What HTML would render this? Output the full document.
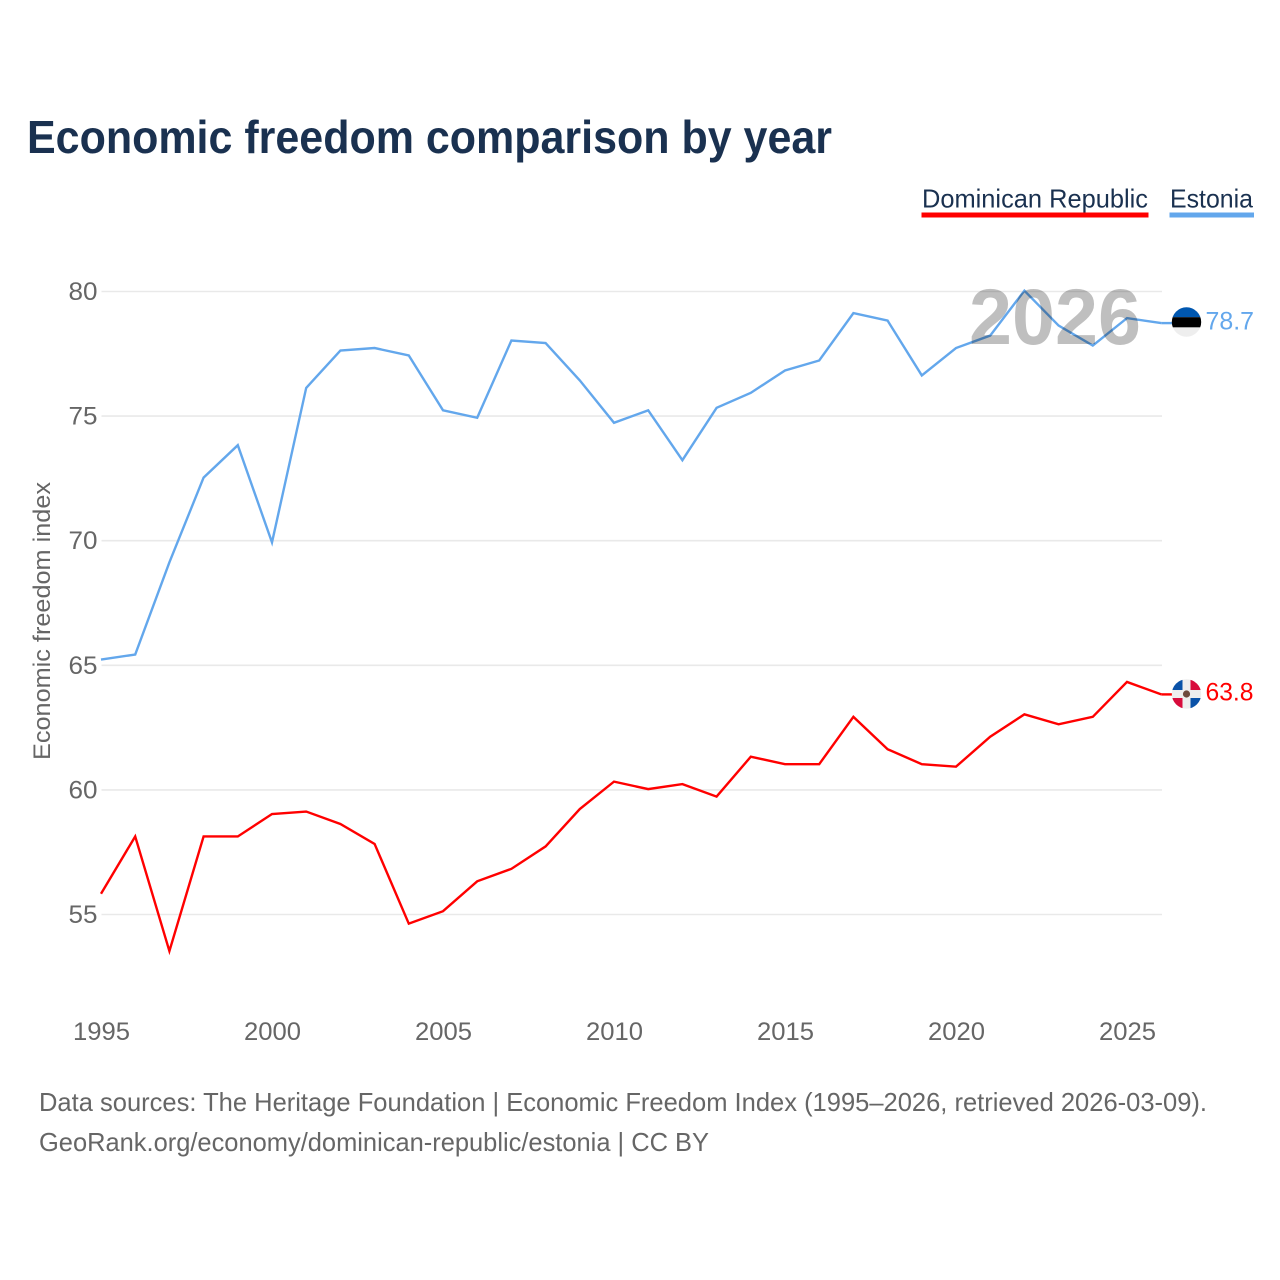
<!DOCTYPE html>
<html lang="en">
<head>
<meta charset="utf-8">
<title>Economic freedom comparison by year</title>
<style>
html,body{margin:0;padding:0;background:#fff;width:1280px;height:1280px;overflow:hidden}
svg{display:block}
text{font-family:"Liberation Sans",sans-serif}
</style>
</head>
<body>
<svg id="chart" xmlns="http://www.w3.org/2000/svg" width="1280" height="1280" viewBox="0 0 1280 1280">
<defs>
<clipPath id="clip-flag-ee"><circle cx="0" cy="0" r="14.7"/></clipPath>
<clipPath id="clip-flag-do"><circle cx="0" cy="0" r="14.7"/></clipPath>
</defs>
<rect x="0" y="0" width="1280" height="1280" fill="#fff"/>
<text x="27" y="153" font-size="46" font-weight="700" fill="#1a3150" textLength="805" lengthAdjust="spacingAndGlyphs">Economic freedom comparison by year</text>
<g>
<text x="922" y="207.5" font-size="26" fill="#1a3150" textLength="226" lengthAdjust="spacingAndGlyphs">Dominican Republic</text>
<rect x="921.5" y="212.5" width="227" height="5" fill="#ff0000"/>
<text x="1170" y="207.5" font-size="26" fill="#1a3150" textLength="83" lengthAdjust="spacingAndGlyphs">Estonia</text>
<rect x="1169.5" y="212.5" width="84.5" height="5" fill="#63a7ec"/>
</g>
<g id="grid"></g>
<g id="y-ticks"></g>
<g id="x-ticks"></g>
<text transform="translate(50,760) rotate(-90)" x="0" y="0" font-size="24.5" fill="#666" textLength="278" lengthAdjust="spacingAndGlyphs">Economic freedom index</text>
<g id="series"></g>
<text x="969" y="344" font-size="79" font-weight="700" fill="#000" fill-opacity="0.25" textLength="172" lengthAdjust="spacingAndGlyphs">2026</text>
<g id="end-markers"></g>
<text x="39" y="1111" font-size="26" fill="#666" textLength="1168" lengthAdjust="spacingAndGlyphs">Data sources: The Heritage Foundation | Economic Freedom Index (1995–2026, retrieved 2026-03-09).</text>
<text x="39" y="1151" font-size="26" fill="#666" textLength="670" lengthAdjust="spacingAndGlyphs">GeoRank.org/economy/dominican-republic/estonia | CC BY</text>
</svg>
<script>
const years = [1995,1996,1997,1998,1999,2000,2001,2002,2003,2004,2005,2006,2007,2008,2009,2010,2011,2012,2013,2014,2015,2016,2017,2018,2019,2020,2021,2022,2023,2024,2025,2026];
const estoniaValues = [65.2,65.4,69.1,72.5,73.8,69.9,76.1,77.6,77.7,77.4,75.2,74.9,78.0,77.9,76.4,74.7,75.2,73.2,75.3,75.9,76.8,77.2,79.1,78.8,76.6,77.7,78.2,80.0,78.6,77.8,78.9,78.7];
const dominicanValues = [55.8,58.1,53.5,58.1,58.1,59.0,59.1,58.6,57.8,54.6,55.1,56.3,56.8,57.7,59.2,60.3,60.0,60.2,59.7,61.3,61.0,61.0,62.9,61.6,61.0,60.9,62.1,63.0,62.6,62.9,64.3,63.8];
const yTickValues = [55,60,65,70,75,80];
const xTickValues = [1995,2000,2005,2010,2015,2020,2025];

const SVG_NS = 'http://www.w3.org/2000/svg';
function xScale(year){ return 101.5 + (year - 1995) * 34.2; }
function yScale(value){ return 291.5 + (80 - value) * 24.92; }
function lineX(year){ return xScale(year) - 0.5; }
function lineY(value){ return yScale(value) - 0.8; }
function make(tag, attrs, parent){
  const node = document.createElementNS(SVG_NS, tag);
  for (const k in attrs) node.setAttribute(k, attrs[k]);
  parent.appendChild(node);
  return node;
}

const gridGroup = document.getElementById('grid');
const yTickGroup = document.getElementById('y-ticks');
yTickValues.forEach(function(v){
  const line = make('line', {x1:101.5, x2:1162, y1:yScale(v), y2:yScale(v), stroke:'#e9e9e9', 'stroke-width':1.6}, gridGroup);
  
  
  const label = make('text', {x:68.5, y:yScale(v)+8.5, 'font-size':25, fill:'#666', textLength:29, lengthAdjust:'spacingAndGlyphs'}, yTickGroup);
  
  
  label.textContent = String(v);
});

const xTickGroup = document.getElementById('x-ticks');
xTickValues.forEach(function(v){
  const label = make('text', {x:xScale(v)-28.5, y:1040, 'font-size':25, fill:'#666', textLength:57, lengthAdjust:'spacingAndGlyphs'}, xTickGroup);
  
  
  label.textContent = String(v);
});

function linePoints(values){
  return values.map(function(v, i){ return lineX(years[i]).toFixed(2) + ',' + lineY(v).toFixed(2); }).join(' ');
}
const seriesGroup = document.getElementById('series');
const dominicanLine = make('polyline', {points:linePoints(dominicanValues), fill:'none', stroke:'#ff0000', 'stroke-width':2.4, 'stroke-linejoin':'miter'}, seriesGroup);


const estoniaLine = make('polyline', {points:linePoints(estoniaValues), fill:'none', stroke:'#63a7ec', 'stroke-width':2.4, 'stroke-linejoin':'miter'}, seriesGroup);



const markers = document.getElementById('end-markers');
const lastIndex = years.length - 1;

/* connector stubs from last point to the flag */
const eeStub = make('line', {x1:lineX(years[lastIndex]), x2:1172, y1:lineY(estoniaValues[lastIndex]), y2:lineY(estoniaValues[lastIndex]), stroke:'#63a7ec', 'stroke-width':2.4}, markers);


const doStub = make('line', {x1:lineX(years[lastIndex]), x2:1172, y1:lineY(dominicanValues[lastIndex]), y2:lineY(dominicanValues[lastIndex]), stroke:'#ff0000', 'stroke-width':2.4}, markers);



/* Estonia flag */
const eeFlag = make('g', {transform:'translate(1186.5,' + (yScale(estoniaValues[lastIndex]) - 1.9) + ')', 'clip-path':'url(#clip-flag-ee)'}, markers);


make('rect', {x:-15, y:-15, width:30, height:10.2, fill:'#0057b0'}, eeFlag);
make('rect', {x:-15, y:-4.8, width:30, height:10.2, fill:'#000'}, eeFlag);
make('rect', {x:-15, y:5.4, width:30, height:10, fill:'#eeeeee'}, eeFlag);

const eeLabel = make('text', {x:1205.5, y:yScale(estoniaValues[lastIndex])+5.5, 'font-size':25, fill:'#63a7ec', textLength:48.5, lengthAdjust:'spacingAndGlyphs'}, markers);


eeLabel.textContent = estoniaValues[lastIndex].toFixed(1);

/* Dominican Republic flag */
const doFlag = make('g', {transform:'translate(1186.5,' + (yScale(dominicanValues[lastIndex]) - 1.2) + ')', 'clip-path':'url(#clip-flag-do)'}, markers);


make('rect', {x:-15, y:-15, width:30, height:30, fill:'#eeeeee'}, doFlag);
make('rect', {x:-15, y:-15, width:11, height:11, fill:'#0a52a8'}, doFlag);
make('rect', {x:4, y:-15, width:11, height:11, fill:'#d80c3c'}, doFlag);
make('rect', {x:-15, y:4, width:11, height:11, fill:'#d80c3c'}, doFlag);
make('rect', {x:4, y:4, width:11, height:11, fill:'#0a52a8'}, doFlag);
make('circle', {cx:0, cy:0, r:3.6, fill:'#6d4a3c'}, doFlag);

const doLabel = make('text', {x:1205.5, y:yScale(dominicanValues[lastIndex])+5.5, 'font-size':25, fill:'#ff0000', textLength:48, lengthAdjust:'spacingAndGlyphs'}, markers);


doLabel.textContent = dominicanValues[lastIndex].toFixed(1);
</script>
</body>
</html>
